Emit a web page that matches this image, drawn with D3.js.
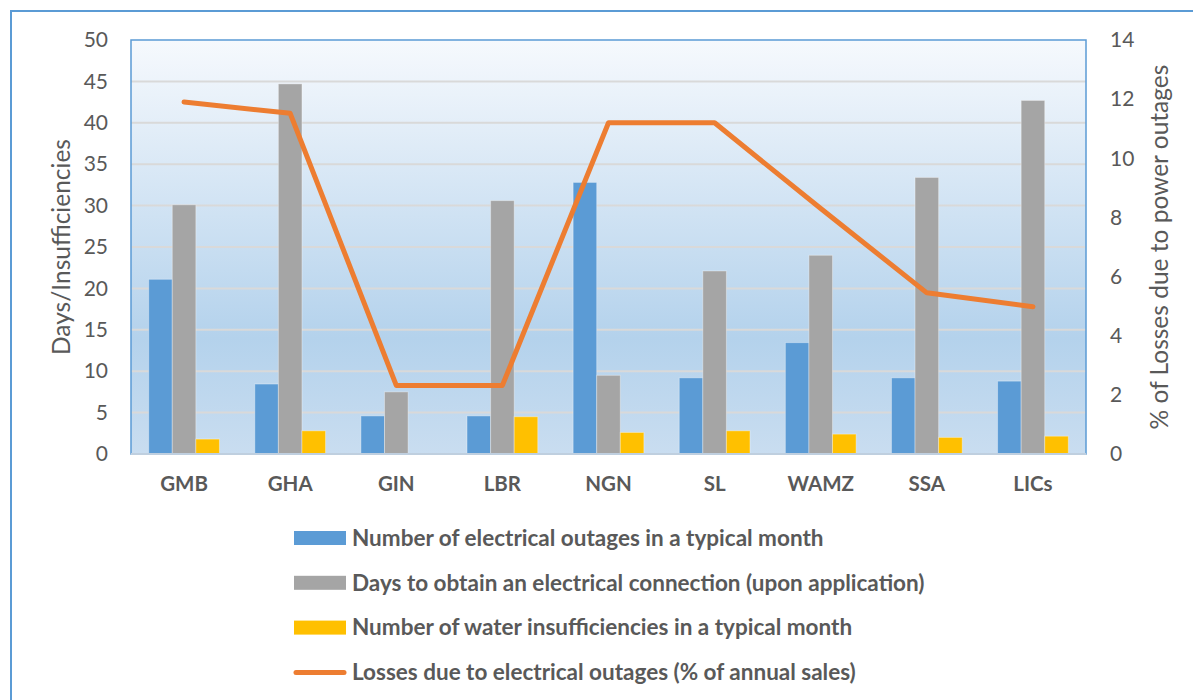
<!DOCTYPE html>
<html>
<head>
<meta charset="utf-8">
<script src="https://cdn.jsdelivr.net/npm/d3@7"></script>
<style>
  body { margin: 0; background: #fff; }
  svg { display: block; font-family: Lato, "Open Sans", sans-serif; }
</style>
</head>
<body>
<div class="chart"></div>
<script>
const categories = ["GMB", "GHA", "GIN", "LBR", "NGN", "SL", "WAMZ", "SSA", "LICs"]

const outages = [21.1, 8.45, 4.6, 4.6, 32.8, 9.2, 13.45, 9.2, 8.8]
const connectionDays = [30.1, 44.7, 7.5, 30.6, 9.5, 22.1, 24.0, 33.4, 42.7]
const waterShortages = [1.8, 2.8, 0, 4.5, 2.6, 2.8, 2.4, 2.0, 2.15]
const lossesPct = [11.9, 11.52, 2.32, 2.32, 11.2, 11.2, 8.3, 5.45, 4.98]

const leftTicks = [0, 5, 10, 15, 20, 25, 30, 35, 40, 45, 50]
const rightTicks = [0, 2, 4, 6, 8, 10, 12, 14]

const barSeries = [
  {name: "Number of electrical outages in a typical month", values: outages, color: "#5b9bd5"},
  {name: "Days to obtain an electrical connection (upon application)", values: connectionDays, color: "#a5a5a5"},
  {name: "Number of water insufficiencies in a typical month", values: waterShortages, color: "#ffc000"}
]
const lineName = "Losses due to electrical outages (% of annual sales)"
const lineColor = "#ed7d31"

const width = 1193
const height = 700
const plot = {left: 131, right: 1086, top: 40, bottom: 454}
const textColor = "#595959"

const svg = d3.select(".chart").append("svg")
  .attr("width", width)
  .attr("height", height)

// background gradient of the plot area
const defs = svg.append("defs")
const grad = defs.append("linearGradient")
  .attr("id", "bg").attr("x1", 0).attr("y1", 0).attr("x2", 0).attr("y2", 1)
grad.append("stop").attr("offset", "0%").attr("stop-color", "#f6f9fd")
grad.append("stop").attr("offset", "72%").attr("stop-color", "#b4d2ec")
grad.append("stop").attr("offset", "100%").attr("stop-color", "#c9ddf0")

// outer chart frame
svg.append("rect")
  .attr("x", 11).attr("y", 11)
  .attr("width", width + 20).attr("height", height + 20)
  .attr("fill", "none")
  .attr("stroke", "#5b9bd5")
  .attr("stroke-width", 2)

svg.append("rect")
  .attr("x", plot.left).attr("y", plot.top)
  .attr("width", plot.right - plot.left).attr("height", plot.bottom - plot.top)
  .attr("fill", "url(#bg)")

const x0 = d3.scaleBand()
  .domain(categories)
  .range([plot.left, plot.right])

const x1 = d3.scaleBand()
  .domain(barSeries.map(s => s.name))
  .range([0, x0.bandwidth()])
  .paddingOuter(0.75)

const y = d3.scaleLinear().domain([0, 50]).range([plot.bottom, plot.top])
const y2 = d3.scaleLinear().domain([0, 14]).range([plot.bottom, plot.top])

// gridlines
svg.append("g")
  .selectAll("line")
  .data(leftTicks.filter(t => t > 0 && t < 50))
  .enter().append("line")
  .attr("x1", plot.left).attr("x2", plot.right)
  .attr("y1", d => y(d)).attr("y2", d => y(d))
  .attr("stroke", "#d9d9d9")
  .attr("stroke-width", 2)

// bars
barSeries.forEach(s => {
  svg.append("g")
    .selectAll("rect")
    .data(categories)
    .enter().append("rect")
    .attr("x", d => x0(d) + x1(s.name))
    .attr("width", x1.bandwidth())
    .attr("y", (d, i) => y(s.values[i]))
    .attr("height", (d, i) => plot.bottom - y(s.values[i]))
    .attr("fill", s.color)
    .attr("stroke", "rgba(255,255,255,0.35)")
    .attr("stroke-width", 1)
})

// plot frame (blue top/left/right, grey base)
svg.append("rect")
  .attr("x", plot.left).attr("y", plot.top)
  .attr("width", plot.right - plot.left).attr("height", plot.bottom - plot.top)
  .attr("fill", "none")
  .attr("stroke", "#5b9bd5")
  .attr("stroke-width", 1.5)
svg.append("line")
  .attr("x1", plot.left).attr("x2", plot.right)
  .attr("y1", plot.bottom).attr("y2", plot.bottom)
  .attr("stroke", "#bfcfdf")
  .attr("stroke-width", 2)

// loss line
const line = d3.line()
  .x((d, i) => x0(categories[i]) + x0.bandwidth() / 2)
  .y(d => y2(d))

svg.append("path")
  .datum(lossesPct)
  .attr("d", line)
  .attr("fill", "none")
  .attr("stroke", lineColor)
  .attr("stroke-width", 5)
  .attr("stroke-linecap", "round")
  .attr("stroke-linejoin", "round")

// axes
const leftAxis = svg.append("g")
  .attr("transform", "translate(" + plot.left + ",0)")
  .call(d3.axisLeft(y).tickValues(leftTicks).tickSize(0).tickPadding(23))
leftAxis.select(".domain").remove()
leftAxis.selectAll("text")
  .attr("fill", textColor).attr("font-size", "21px").attr("font-family", "Lato, sans-serif")

const rightAxis = svg.append("g")
  .attr("transform", "translate(" + plot.right + ",0)")
  .call(d3.axisRight(y2).tickValues(rightTicks).tickSize(0).tickPadding(24))
rightAxis.select(".domain").remove()
rightAxis.selectAll("text")
  .attr("fill", textColor).attr("font-size", "21px").attr("font-family", "Lato, sans-serif")

const xAxis = svg.append("g")
  .attr("transform", "translate(0," + plot.bottom + ")")
  .call(d3.axisBottom(x0).tickSize(0).tickPadding(22))
xAxis.select(".domain").remove()
xAxis.selectAll("text")
  .attr("fill", textColor).attr("font-size", "20.5px").attr("font-weight", "bold")
  .attr("font-family", "Lato, sans-serif")

// axis titles
svg.append("text")
  .attr("transform", "translate(70," + (plot.top + plot.bottom) / 2 + ") rotate(-90)")
  .attr("text-anchor", "middle")
  .attr("font-size", "24.5px")
  .attr("fill", textColor)
  .text("Days/Insufficiencies")

svg.append("text")
  .attr("transform", "translate(1168," + (plot.top + plot.bottom) / 2 + ") rotate(-90)")
  .attr("text-anchor", "middle")
  .attr("font-size", "24.5px")
  .attr("fill", textColor)
  .text("% of Losses due to power outages")

// legend
const legendRows = barSeries.map(s => ({name: s.name, color: s.color, type: "bar"}))
  .concat([{name: lineName, color: lineColor, type: "line"}])

const legend = svg.append("g")
  .selectAll("g")
  .data(legendRows)
  .enter().append("g")
  .attr("transform", (d, i) => "translate(294," + (538 + i * 44.8) + ")")

legend.filter(d => d.type === "bar").append("rect")
  .attr("x", 0).attr("y", -7).attr("width", 52).attr("height", 14)
  .attr("fill", d => d.color)
legend.filter(d => d.type === "line").append("line")
  .attr("x1", 2).attr("x2", 50).attr("y1", 0).attr("y2", 0)
  .attr("stroke", d => d.color).attr("stroke-width", 5).attr("stroke-linecap", "round")

legend.append("text")
  .attr("x", 58).attr("dy", "0.35em")
  .attr("font-size", "22.5px").attr("font-weight", "bold")
  .attr("fill", textColor)
  .text(d => d.name)
</script>
</body>
</html>
